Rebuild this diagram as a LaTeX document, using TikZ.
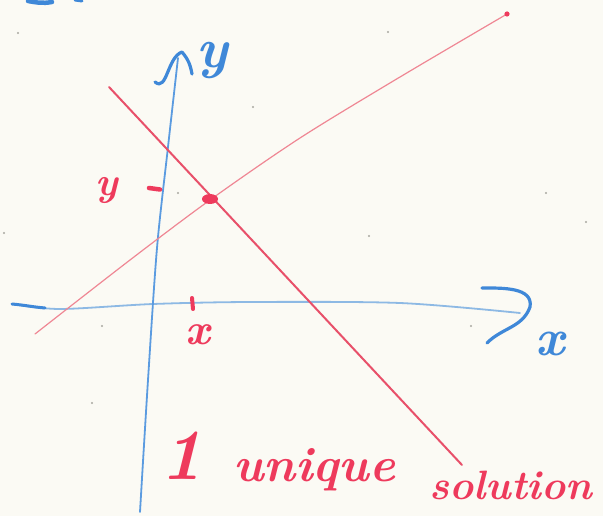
\documentclass[tikz,border=0pt]{standalone}
\usepackage{fontspec}
\definecolor{paper}{HTML}{FBFAF4}
\definecolor{redA}{HTML}{E8506A}
\definecolor{redB}{HTML}{EF8794}
\definecolor{redT}{HTML}{EE3A5C}
\definecolor{blueA}{HTML}{5B9BE0}
\definecolor{blueL}{HTML}{8DB9E4}
\definecolor{blueD}{HTML}{3F88D8}
\definecolor{speck}{HTML}{A8A8A0}
\begin{document}
\begin{tikzpicture}[x=1pt,y=-1pt,
  txt/.style={inner sep=0pt, anchor=base west, font=#1\bfseries\itshape},
  speckdot/.style={fill=speck, circle, inner sep=0pt, minimum size=2.2pt},
  pen/.style={line cap=round, line join=round}]
\useasboundingbox (0,0) rectangle (603,516);
\fill[paper] (0,0) rectangle (603,516);

% paper specks
\foreach \p in {(18,33),(253,107),(369,236),(4,233),(471,326),(102,326),(92,403),(546,193),(586,222),(388,32),(178,193)}
  \node[speckdot] at \p {};

% blue scribble at top edge
\draw[blueD, pen, line width=4.5pt] (28,1) to[out=-10,in=190] (52,2);
\draw[blueD, pen, line width=3pt] (75,0) -- (82,1);

% x-axis
\draw[blueL, pen, line width=1.8pt] plot[smooth] coordinates {(12,304) (60,309) (153,304) (250,302) (400,303) (520,313)};
\draw[blueD, pen, line width=3pt] (12,304) to[out=-5,in=175] (45,308);
\coordinate (xtip) at (530,307);
\draw[blueD, pen, line width=3.2pt] (482,288) to[out=0,in=80] (xtip) to[out=-110,in=45] (487,343);
\node[txt={\fontsize{52}{52}\selectfont}, text=blueD] (xlab) at (535,355) {x};

% y-axis
\draw[blueA, pen, line width=1.8pt] plot[smooth] coordinates {(140,512) (148,380) (157,248) (168,147) (178,58)};
\coordinate (ytip) at (182,52);
\draw[blueD, pen, line width=3.2pt] (155,82) to[out=-40,in=200] (ytip) to[out=-50,in=100] (192,74);
\node[txt={\fontsize{56}{56}\selectfont}, text=blueD] (ylab) at (196,68) {y};

% red lines
\draw[redB, pen, line width=1.2pt] plot[smooth] coordinates {(35,334) (130,260) (210,200) (300,138) (400,77) (507,14)};
\fill[redT] (507,14) circle (2.6pt);
\coordinate (l1a) at (109,87);
\coordinate (l1b) at (462,465);
\draw[redA, pen, line width=2pt] (l1a) -- (l1b);

% intersection
\fill[redT] (210,199) ellipse (8pt and 5pt);

% ticks
\draw[redT, pen, line width=4.5pt] (149,188) -- (160,189.5);
\node[txt={\fontsize{40}{40}\selectfont}, text=redT] (ytick) at (95,196) {y};
\draw[redT, pen, line width=4pt] (192,298) -- (193,309);
\node[txt={\fontsize{44}{44}\selectfont}, text=redT] (xtick) at (185,344) {x};

% caption
\node[txt={\fontsize{72}{72}\selectfont}, text=redT] (one) at (160,479) {1};
\node[txt={\fontsize{49}{49}\selectfont}, text=redT] (unique) at (233,481) {unique};
\node[txt={\fontsize{41}{41}\selectfont}, text=redT] (solution) at (429,499) {solution};
\end{tikzpicture}
\end{document}
